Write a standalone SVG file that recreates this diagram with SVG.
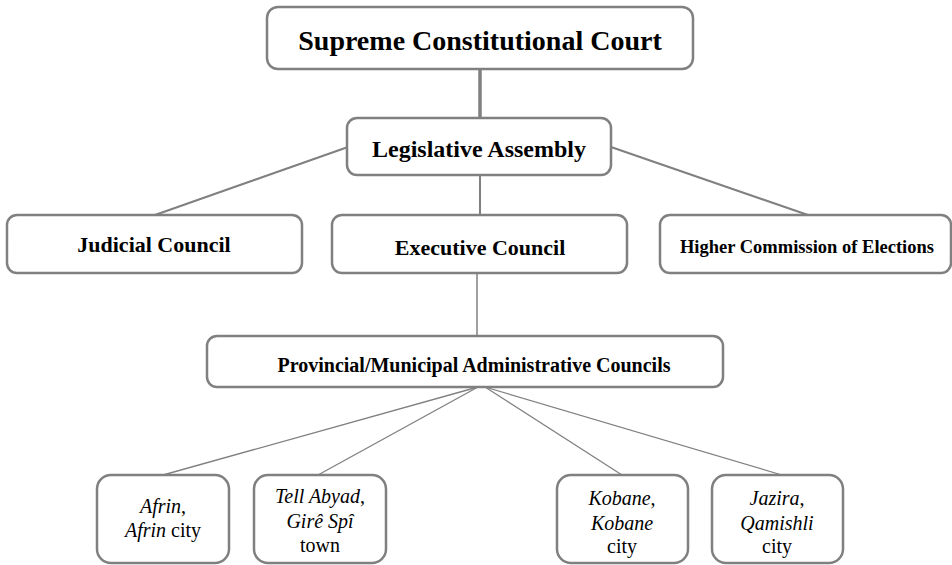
<svg xmlns="http://www.w3.org/2000/svg" width="952" height="565" viewBox="0 0 952 565">
<style>
.box{fill:#fff;stroke:#808080;stroke-width:2.5}
.ln{stroke:#808080;fill:none}
text{font-family:"Liberation Serif","Times New Roman",serif;fill:#000;text-anchor:middle}
.b{font-weight:bold}
.s{font-size:20px}
i,.it{font-style:italic}
</style>
<rect width="952" height="565" fill="#fff"/>
<g id="connectors">
<line class="ln" x1="480" y1="69" x2="480" y2="118" stroke-width="3.5"/>
<line class="ln" x1="348" y1="147" x2="155" y2="215" stroke-width="2.2"/>
<line class="ln" x1="611" y1="147" x2="808" y2="215" stroke-width="2.2"/>
<line class="ln" x1="480" y1="175" x2="480" y2="215" stroke-width="2"/>
<line class="ln" x1="477" y1="273" x2="477" y2="336" stroke-width="1.5"/>
<line class="ln" x1="478" y1="387" x2="163" y2="475" stroke-width="1.3"/>
<line class="ln" x1="478" y1="387" x2="318" y2="475" stroke-width="1.3"/>
<line class="ln" x1="485" y1="387" x2="622" y2="475" stroke-width="1.3"/>
<line class="ln" x1="485" y1="387" x2="782" y2="475" stroke-width="1.3"/>
</g>
<g id="supreme">
<rect class="box" x="267" y="7" width="426" height="62" rx="11"/>
<text class="b" x="480" y="50" font-size="28">Supreme Constitutional Court</text>
</g>
<g id="legislative">
<rect class="box" x="347" y="118" width="264" height="57" rx="10"/>
<text class="b" x="479" y="157" font-size="24">Legislative Assembly</text>
</g>
<g id="judicial">
<rect class="box" x="7" y="215" width="295" height="58" rx="10"/>
<text class="b" x="154" y="252" font-size="22">Judicial Council</text>
</g>
<g id="executive">
<rect class="box" x="332" y="215" width="295" height="58" rx="10"/>
<text class="b" x="480" y="255" font-size="22">Executive Council</text>
</g>
<g id="elections">
<rect class="box" x="660" y="215" width="291" height="58" rx="10"/>
<text class="b" x="807" y="253" font-size="18.5">Higher Commission of Elections</text>
</g>
<g id="provincial">
<rect class="box" x="207" y="336" width="516" height="51" rx="10"/>
<text class="b" x="474" y="372" font-size="20">Provincial/Municipal Administrative Councils</text>
</g>
<g id="afrin">
<rect class="box" x="97" y="475" width="132" height="88" rx="14"/>
<text class="s" x="163" y="513"><tspan font-style="italic">Afrin</tspan>,</text>
<text class="s" x="163" y="537"><tspan font-style="italic">Afrin</tspan> city</text>
</g>
<g id="tellabyad">
<rect class="box" x="254" y="475" width="132" height="88" rx="14"/>
<text class="s" x="320" y="503"><tspan font-style="italic">Tell Abyad</tspan>,</text>
<text class="s" x="320" y="528" font-style="italic">Girê Spî</text>
<text class="s" x="320" y="552">town</text>
</g>
<g id="kobane">
<rect class="box" x="557" y="475" width="131" height="88" rx="14"/>
<text class="s" x="622" y="505"><tspan font-style="italic">Kobane</tspan>,</text>
<text class="s" x="622" y="530" font-style="italic">Kobane</text>
<text class="s" x="622" y="553">city</text>
</g>
<g id="jazira">
<rect class="box" x="712" y="475" width="131" height="88" rx="14"/>
<text class="s" x="777" y="505"><tspan font-style="italic">Jazira</tspan>,</text>
<text class="s" x="777" y="530" font-style="italic">Qamishli</text>
<text class="s" x="777" y="553">city</text>
</g>
</svg>
